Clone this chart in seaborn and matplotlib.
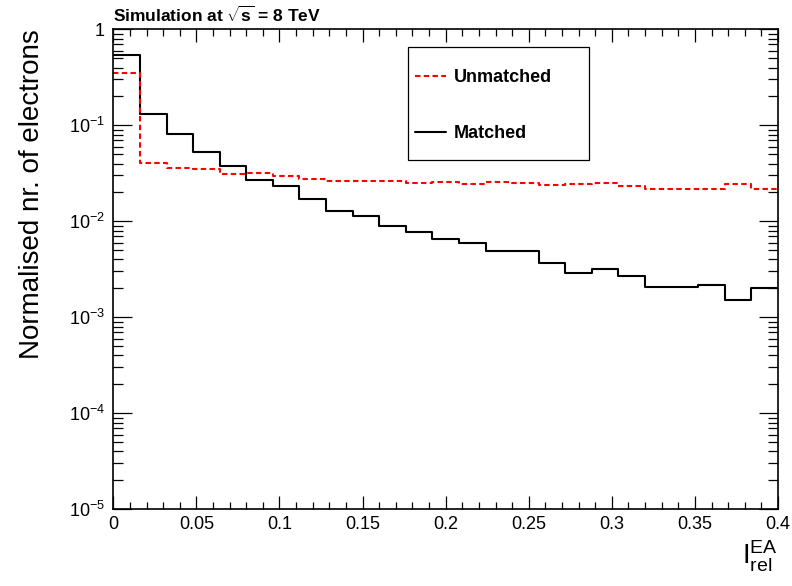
import numpy as np
import pandas as pd
import matplotlib
matplotlib.use("Agg")
import matplotlib.pyplot as plt
from matplotlib.lines import Line2D
from matplotlib.patches import Rectangle
from matplotlib.ticker import LogLocator, MultipleLocator, NullFormatter
import seaborn as sns

# Histogram binning of the relative isolation variable
bin_edges = list(np.linspace(0.0, 0.4, 26))

# Normalised electron yields per bin
matched = [0.543, 0.131, 0.081, 0.0527, 0.0377, 0.0269, 0.0233, 0.0169, 0.0129,
           0.0113, 0.0089, 0.00775, 0.0065, 0.00598, 0.00491, 0.00488, 0.00368,
           0.00289, 0.00321, 0.00269, 0.00208, 0.00205, 0.00219, 0.00150, 0.00203]
unmatched = [0.353, 0.0402, 0.0361, 0.0348, 0.0309, 0.0316, 0.0298, 0.0274, 0.0263,
             0.0263, 0.0263, 0.0251, 0.0259, 0.0245, 0.0255, 0.0250, 0.0237,
             0.0245, 0.0251, 0.0233, 0.0215, 0.0219, 0.0219, 0.0243, 0.0219]

series_names = ["Unmatched", "Matched"]

x_ticks = [0, 0.05, 0.1, 0.15, 0.2, 0.25, 0.3, 0.35, 0.4]
x_tick_labels = ["0", "0.05", "0.1", "0.15", "0.2", "0.25", "0.3", "0.35", "0.4"]
y_ticks = [1e-5, 1e-4, 1e-3, 1e-2, 1e-1, 1]
y_tick_labels = [r"$\mathregular{10^{-5}}$", r"$\mathregular{10^{-4}}$",
                 r"$\mathregular{10^{-3}}$", r"$\mathregular{10^{-2}}$",
                 r"$\mathregular{10^{-1}}$", "1"]

sns.set_style("ticks")
plt.rcParams["font.family"] = ["Liberation Sans", "DejaVu Sans"]
plt.rcParams["mathtext.fontset"] = "custom"
plt.rcParams["mathtext.rm"] = "Liberation Sans"
plt.rcParams["mathtext.it"] = "Liberation Sans:italic"
plt.rcParams["mathtext.bf"] = "Liberation Sans:bold"
for key in ["text.color", "axes.labelcolor", "xtick.color", "ytick.color",
            "axes.edgecolor"]:
    plt.rcParams[key] = "black"

edges_arr = np.asarray(bin_edges)
centers = 0.5 * (edges_arr[:-1] + edges_arr[1:])
df = pd.DataFrame({
    "iso": np.concatenate([centers, centers]),
    "frac": np.concatenate([unmatched, matched]),
    "sample": np.repeat(series_names, len(centers)),
})

fig = plt.figure(figsize=(7.92, 5.86), dpi=100)
ax = fig.add_axes([0.1431, 0.1309, 0.9823 - 0.1431, 0.9500 - 0.1309])

sns.histplot(data=df[df["sample"] == "Matched"], x="iso", weights="frac",
             bins=bin_edges, element="step", fill=False, color="black",
             linewidth=1.5, ax=ax)
sns.histplot(data=df[df["sample"] == "Unmatched"], x="iso", weights="frac",
             bins=bin_edges, element="step", fill=False, color="#ff0000",
             linewidth=1.5, linestyle=(0, (2.6, 1.6)), ax=ax)

ax.set_yscale("log")
ax.set_xlim(0, 0.4)
ax.set_ylim(1e-5, 1)

ax.set_xticks(x_ticks)
ax.set_xticklabels(x_tick_labels)
ax.xaxis.set_minor_locator(MultipleLocator(0.01))
ax.set_yticks(y_ticks)
ax.set_yticklabels(y_tick_labels)
ax.yaxis.set_minor_locator(LogLocator(base=10, subs=np.arange(2, 10), numticks=20))
ax.yaxis.set_minor_formatter(NullFormatter())

ax.tick_params(which="both", direction="in", top=True, right=True,
               labelsize=13, width=0.9, colors="black")
ax.tick_params(axis="x", which="major", length=9.4, pad=5)
ax.tick_params(axis="x", which="minor", length=5)
ax.tick_params(axis="y", which="major", length=13.7, pad=6)
ax.tick_params(axis="y", which="minor", length=7.2)
for sp in ax.spines.values():
    sp.set_visible(True)
    sp.set_linewidth(1.2)
    sp.set_color("black")

ax.set_ylabel("Normalised nr. of electrons", fontsize=20, loc="top", labelpad=17,
              color="black")
ax.set_xlabel(r"$\mathregular{I_{rel}^{EA}}$", fontsize=20, loc="right", labelpad=4,
              color="black")

ax.set_title(r"Simulation at $\mathbf{\sqrt{s}}$ = 8 TeV", loc="left",
             fontsize=12.5, fontweight="bold", pad=5, color="black")

# legend frame and entries
ax.add_patch(Rectangle((0.4434, 0.7277), 0.2722, 0.2353, transform=ax.transAxes,
                       fill=False, edgecolor="black", linewidth=0.9, zorder=5))
handles = [
    Line2D([], [], color="#ff0000", linewidth=1.5, linestyle=(0, (2.6, 1.6))),
    Line2D([], [], color="black", linewidth=1.5),
]
ax.legend(handles, series_names, loc="upper left", bbox_to_anchor=(0.4539, 0.917),
          frameon=False, borderpad=0, borderaxespad=0, handlelength=1.72,
          handletextpad=0.42, labelspacing=2.17,
          prop={"weight": "bold", "size": 13})

fig.savefig("out.png", dpi=100)
